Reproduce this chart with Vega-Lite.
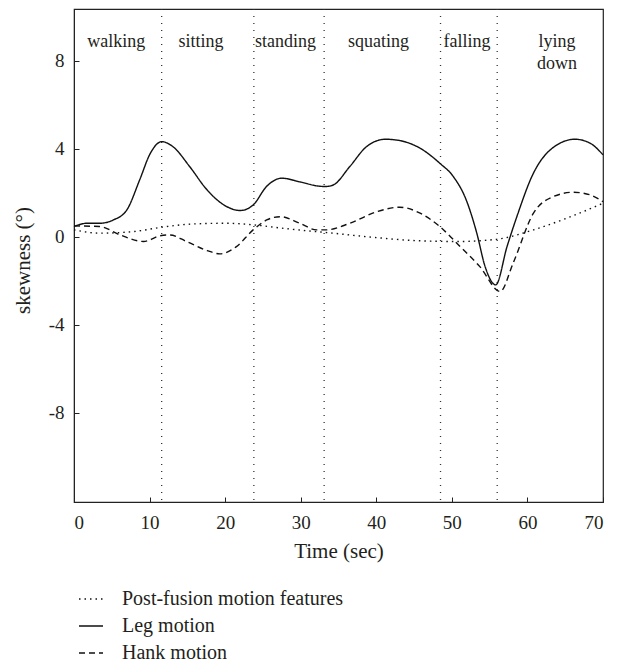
{
  "$schema": "https://vega.github.io/schema/vega-lite/v6.json",
  "width": 529,
  "height": 493,
  "autosize": {"type": "none"},
  "padding": {"left": 74, "top": 9, "right": 20, "bottom": 162},
  "background": "white",
  "config": {
    "font": "Liberation Serif",
    "view": {"stroke": "#222", "strokeWidth": 1.2},
    "axis": {
      "labelFont": "Liberation Serif",
      "titleFont": "Liberation Serif",
      "labelFontSize": 19,
      "titleFontSize": 21,
      "titleFontWeight": "normal",
      "labelColor": "#231f20",
      "titleColor": "#231f20",
      "domainColor": "#222",
      "tickColor": "#222",
      "grid": false
    },
    "legend": {
      "labelFont": "Liberation Serif",
      "labelFontSize": 20,
      "labelColor": "#231f20",
      "labelLimit": 0
    }
  },
  "datasets": {
    "curves": [
      {"series": "Leg motion", "t": 0, "v": 0.47},
      {"series": "Leg motion", "t": 1.7, "v": 0.62},
      {"series": "Leg motion", "t": 3.4, "v": 0.62},
      {"series": "Leg motion", "t": 5.2, "v": 0.77},
      {"series": "Leg motion", "t": 7.0, "v": 1.23},
      {"series": "Leg motion", "t": 8.7, "v": 2.6},
      {"series": "Leg motion", "t": 10.1, "v": 3.8},
      {"series": "Leg motion", "t": 11.6, "v": 4.33},
      {"series": "Leg motion", "t": 13.1, "v": 4.1},
      {"series": "Leg motion", "t": 15.3, "v": 3.2},
      {"series": "Leg motion", "t": 17.6, "v": 2.14},
      {"series": "Leg motion", "t": 20.2, "v": 1.38},
      {"series": "Leg motion", "t": 22.0, "v": 1.2},
      {"series": "Leg motion", "t": 23.7, "v": 1.45},
      {"series": "Leg motion", "t": 25.5, "v": 2.3},
      {"series": "Leg motion", "t": 27.5, "v": 2.67},
      {"series": "Leg motion", "t": 29.9, "v": 2.5},
      {"series": "Leg motion", "t": 32.6, "v": 2.3},
      {"series": "Leg motion", "t": 33.3, "v": 2.29},
      {"series": "Leg motion", "t": 34.3, "v": 2.36},
      {"series": "Leg motion", "t": 36.5, "v": 3.2},
      {"series": "Leg motion", "t": 38.7, "v": 4.1},
      {"series": "Leg motion", "t": 41.2, "v": 4.44},
      {"series": "Leg motion", "t": 43.1, "v": 4.38},
      {"series": "Leg motion", "t": 45.8, "v": 4.03},
      {"series": "Leg motion", "t": 48.4, "v": 3.35},
      {"series": "Leg motion", "t": 50.2, "v": 2.74},
      {"series": "Leg motion", "t": 51.9, "v": 1.68},
      {"series": "Leg motion", "t": 53.3, "v": 0.17},
      {"series": "Leg motion", "t": 54.4, "v": -1.35},
      {"series": "Leg motion", "t": 55.8, "v": -2.18},
      {"series": "Leg motion", "t": 57.3, "v": -0.44},
      {"series": "Leg motion", "t": 58.6, "v": 0.92},
      {"series": "Leg motion", "t": 60.8, "v": 2.9},
      {"series": "Leg motion", "t": 63.0, "v": 3.95},
      {"series": "Leg motion", "t": 66.3, "v": 4.44},
      {"series": "Leg motion", "t": 68.3, "v": 4.26},
      {"series": "Leg motion", "t": 70, "v": 3.73},

      {"series": "Hank motion", "t": 0, "v": 0.5},
      {"series": "Hank motion", "t": 3.4, "v": 0.47},
      {"series": "Hank motion", "t": 6.1, "v": 0.09},
      {"series": "Hank motion", "t": 9.2, "v": -0.21},
      {"series": "Hank motion", "t": 11.4, "v": 0.05},
      {"series": "Hank motion", "t": 12.7, "v": 0.09},
      {"series": "Hank motion", "t": 14.9, "v": -0.21},
      {"series": "Hank motion", "t": 17.6, "v": -0.62},
      {"series": "Hank motion", "t": 19.3, "v": -0.77},
      {"series": "Hank motion", "t": 21.5, "v": -0.44},
      {"series": "Hank motion", "t": 23.7, "v": 0.32},
      {"series": "Hank motion", "t": 25.5, "v": 0.77},
      {"series": "Hank motion", "t": 27.3, "v": 0.92},
      {"series": "Hank motion", "t": 29.9, "v": 0.62},
      {"series": "Hank motion", "t": 32.1, "v": 0.32},
      {"series": "Hank motion", "t": 33.4, "v": 0.32},
      {"series": "Hank motion", "t": 36.5, "v": 0.62},
      {"series": "Hank motion", "t": 40.1, "v": 1.15},
      {"series": "Hank motion", "t": 43.1, "v": 1.35},
      {"series": "Hank motion", "t": 45.8, "v": 1.08},
      {"series": "Hank motion", "t": 48.4, "v": 0.47},
      {"series": "Hank motion", "t": 51.1, "v": -0.44},
      {"series": "Hank motion", "t": 53.7, "v": -1.35},
      {"series": "Hank motion", "t": 56.4, "v": -2.48},
      {"series": "Hank motion", "t": 58.1, "v": -1.2},
      {"series": "Hank motion", "t": 60.8, "v": 1.08},
      {"series": "Hank motion", "t": 63.4, "v": 1.83},
      {"series": "Hank motion", "t": 66.1, "v": 2.03},
      {"series": "Hank motion", "t": 68.3, "v": 1.91},
      {"series": "Hank motion", "t": 70, "v": 1.6},

      {"series": "Post-fusion motion features", "t": 0, "v": 0.32},
      {"series": "Post-fusion motion features", "t": 3.4, "v": 0.17},
      {"series": "Post-fusion motion features", "t": 7.8, "v": 0.24},
      {"series": "Post-fusion motion features", "t": 11.6, "v": 0.44},
      {"series": "Post-fusion motion features", "t": 15.8, "v": 0.59},
      {"series": "Post-fusion motion features", "t": 20.2, "v": 0.62},
      {"series": "Post-fusion motion features", "t": 23.7, "v": 0.55},
      {"series": "Post-fusion motion features", "t": 27.7, "v": 0.39},
      {"series": "Post-fusion motion features", "t": 32.1, "v": 0.24},
      {"series": "Post-fusion motion features", "t": 33.1, "v": 0.21},
      {"series": "Post-fusion motion features", "t": 38.7, "v": 0.01},
      {"series": "Post-fusion motion features", "t": 45.3, "v": -0.17},
      {"series": "Post-fusion motion features", "t": 50.6, "v": -0.21},
      {"series": "Post-fusion motion features", "t": 55.9, "v": -0.11},
      {"series": "Post-fusion motion features", "t": 60.8, "v": 0.32},
      {"series": "Post-fusion motion features", "t": 65.2, "v": 0.85},
      {"series": "Post-fusion motion features", "t": 70, "v": 1.53}
    ],
    "bounds": [
      {"t": 11.6}, {"t": 23.8}, {"t": 33.1}, {"t": 48.5}, {"t": 56.0}
    ],
    "labels": [
      {"t": 5.6, "v": 8.85, "label": "walking"},
      {"t": 16.8, "v": 8.85, "label": "sitting"},
      {"t": 28.0, "v": 8.85, "label": "standing"},
      {"t": 40.3, "v": 8.85, "label": "squating"},
      {"t": 52.0, "v": 8.85, "label": "falling"},
      {"t": 63.9, "v": 8.85, "label": "lying\ndown"}
    ]
  },
  "layer": [
    {
      "data": {"name": "bounds"},
      "mark": {"type": "rule", "strokeDash": [1, 6], "strokeWidth": 1.3, "color": "#333"},
      "encoding": {
        "x": {"field": "t", "type": "quantitative", "scale": {"domain": [0, 70]}}
      }
    },
    {
      "data": {"name": "curves"},
      "mark": {"type": "line", "interpolate": "monotone", "strokeWidth": 1.4, "color": "#111"},
      "encoding": {
        "x": {
          "field": "t", "type": "quantitative",
          "scale": {"domain": [0, 70], "nice": false},
          "axis": {"title": "Time (sec)", "values": [0, 10, 20, 30, 40, 50, 60, 70], "tickSize": -5, "labelPadding": 16, "titlePadding": 8}
        },
        "y": {
          "field": "v", "type": "quantitative",
          "scale": {"domain": [-12.05, 10.36], "nice": false, "zero": false},
          "axis": {"title": "skewness (°)", "values": [-8, -4, 0, 4, 8], "tickSize": -5, "labelPadding": 15, "titlePadding": 15, "titleY": 251, "labelExpr": "replace(datum.label, '−', '-')"}
        },
        "strokeDash": {
          "field": "series", "type": "nominal",
          "scale": {
            "domain": ["Post-fusion motion features", "Leg motion", "Hank motion"],
            "range": [[1.5, 4], [1, 0], [6, 4]]
          },
          "legend": {
            "title": null,
            "orient": "none",
            "legendX": 4,
            "legendY": 577,
            "symbolType": "stroke",
            "symbolStrokeColor": "#111",
            "symbolStrokeWidth": 1.3,
            "symbolSize": 576,
            "rowPadding": 4,
            "labelOffset": 18
          }
        }
      }
    },
    {
      "data": {"name": "labels"},
      "mark": {"type": "text", "fontSize": 18, "color": "#231f20", "lineBreak": "\n", "baseline": "middle", "align": "center", "lineHeight": 22},
      "encoding": {
        "x": {"field": "t", "type": "quantitative"},
        "y": {"field": "v", "type": "quantitative"},
        "text": {"field": "label"}
      }
    }
  ]
}
